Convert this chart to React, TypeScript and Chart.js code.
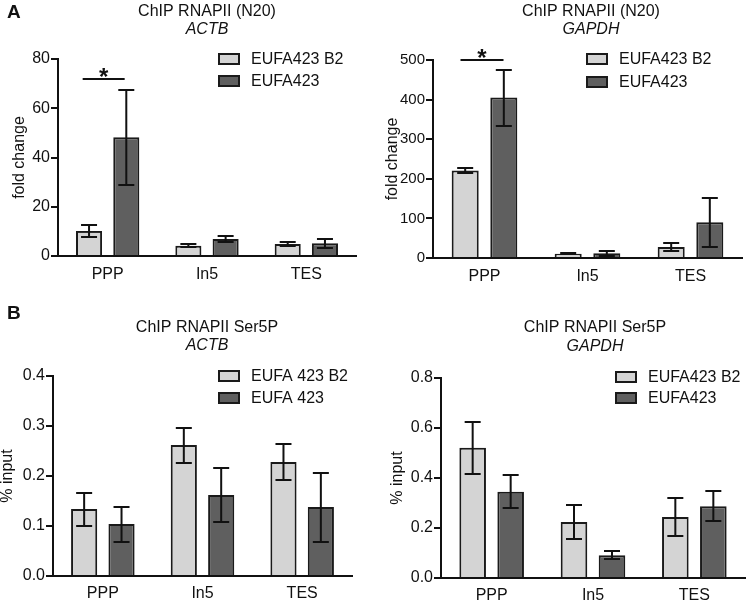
import React, { useEffect, useRef } from 'react';
import { Chart, registerables } from 'chart.js';

Chart.register(...registerables);

const FONT = '"Liberation Sans", Arial, Helvetica, sans-serif';

const categories = ['PPP', 'In5', 'TES'];

// Panel A (left): ChIP RNAPII (N20) – ACTB, fold change
const actbN20Labels = ['EUFA423 B2', 'EUFA423'];
const actbN20B2 = [10.2, 4.2, 4.9];
const actbN20B2Err = [2.5, 0.5, 0.9];
const actbN20Mut = [48.2, 6.9, 5.2];
const actbN20MutErr = [19.3, 1.1, 1.9];

// Panel A (right): ChIP RNAPII (N20) – GAPDH, fold change
const gapdhN20Labels = ['EUFA423 B2', 'EUFA423'];
const gapdhN20B2 = [221, 11, 27.5];
const gapdhN20B2Err = [7.5, 2, 10.5];
const gapdhN20Mut = [405, 12, 90];
const gapdhN20MutErr = [71, 6.5, 61];

// Panel B (left): ChIP RNAPII Ser5P – ACTB, % input
const actbSer5Labels = ['EUFA 423 B2', 'EUFA 423'];
const actbSer5B2 = [0.134, 0.262, 0.228];
const actbSer5B2Err = [0.033, 0.035, 0.036];
const actbSer5Mut = [0.104, 0.162, 0.138];
const actbSer5MutErr = [0.035, 0.054, 0.069];

// Panel B (right): ChIP RNAPII Ser5P – GAPDH, % input
const gapdhSer5Labels = ['EUFA423 B2', 'EUFA423'];
const gapdhSer5B2 = [0.521, 0.224, 0.244];
const gapdhSer5B2Err = [0.104, 0.067, 0.075];
const gapdhSer5Mut = [0.345, 0.091, 0.287];
const gapdhSer5MutErr = [0.066, 0.016, 0.06];

// y-axis ranges [min, max, step]
const actbN20Axis = [0, 80, 20];
const gapdhN20Axis = [0, 500, 100];
const actbSer5Axis = [0, 0.4, 0.1];
const gapdhSer5Axis = [0, 0.8, 0.2];

const LIGHT = '#d4d4d4';
const DARK = '#5f5f5f';
const EDGE = '#1a1a1a';

type Panel = {
  letter?: string;
  letterY?: number;
  title: string;
  gene: string;
  titleX: number;
  titleY: number;
  geneY: number;
  yTitle: string;
  yTitlePad: number;
  tickSize: number;
  xPad: number;
  decimals: number;
  axis: number[];
  labels: string[];
  b2: number[];
  b2Err: number[];
  mut: number[];
  mutErr: number[];
  legendX: number;
  legendY: number[];
  sig?: { cat: number; value: number; x0: number; x1: number };
  canvas: { left: number; top: number; w: number; h: number };
  area: { left: number; top: number; right: number; bottom: number };
};

const panels: Panel[] = [
  {
    letter: 'A', letterY: 13,
    title: 'ChIP RNAPII (N20)', gene: 'ACTB', titleX: 207, titleY: 12, geneY: 30,
    yTitle: 'fold change', yTitlePad: 12, tickSize: 16, xPad: 1, decimals: 0,
    axis: actbN20Axis, labels: actbN20Labels,
    b2: actbN20B2, b2Err: actbN20B2Err, mut: actbN20Mut, mutErr: actbN20MutErr,
    legendX: 218, legendY: [53, 75],
    sig: { cat: 0, value: 72, x0: -25, x1: 17 },
    canvas: { left: 0, top: 0, w: 373, h: 292 },
    area: { left: 58, top: 59, right: 356, bottom: 256 },
  },
  {
    title: 'ChIP RNAPII (N20)', gene: 'GAPDH', titleX: 218, titleY: 12, geneY: 30,
    yTitle: 'fold change', yTitlePad: 12, tickSize: 15, xPad: 1, decimals: 0,
    axis: gapdhN20Axis, labels: gapdhN20Labels,
    b2: gapdhN20B2, b2Err: gapdhN20B2Err, mut: gapdhN20Mut, mutErr: gapdhN20MutErr,
    legendX: 213, legendY: [53, 76],
    sig: { cat: 0, value: 500, x0: -24, x1: 19 },
    canvas: { left: 373, top: 0, w: 373, h: 292 },
    area: { left: 60, top: 60, right: 369, bottom: 258 },
  },
  {
    letter: 'B', letterY: 34,
    title: 'ChIP RNAPII Ser5P', gene: 'ACTB', titleX: 207, titleY: 48, geneY: 66,
    yTitle: '% input', yTitlePad: 0, tickSize: 16, xPad: 0, decimals: 1,
    axis: actbSer5Axis, labels: actbSer5Labels,
    b2: actbSer5B2, b2Err: actbSer5B2Err, mut: actbSer5Mut, mutErr: actbSer5MutErr,
    legendX: 218, legendY: [90, 112],
    canvas: { left: 0, top: 280, w: 373, h: 321 },
    area: { left: 53, top: 96, right: 352, bottom: 296 },
  },
  {
    title: 'ChIP RNAPII Ser5P', gene: 'GAPDH', titleX: 222, titleY: 48, geneY: 67,
    yTitle: '% input', yTitlePad: 17, tickSize: 16, xPad: 0, decimals: 1,
    axis: gapdhSer5Axis, labels: gapdhSer5Labels,
    b2: gapdhSer5B2, b2Err: gapdhSer5B2Err, mut: gapdhSer5Mut, mutErr: gapdhSer5MutErr,
    legendX: 242, legendY: [91, 112],
    canvas: { left: 373, top: 280, w: 373, h: 321 },
    area: { left: 68, top: 98, right: 372, bottom: 298 },
  },
];

function PanelChart({ p }: { p: Panel }) {
  const ref = useRef<HTMLCanvasElement | null>(null);

  useEffect(() => {
    const canvas = ref.current;
    if (!canvas) return;
    const errs = [p.b2Err, p.mutErr];

    const extras = {
      id: 'extras',
      afterDatasetsDraw(chart: any) {
        const ctx = chart.ctx;
        const y = chart.scales.y;
        ctx.save();
        ctx.strokeStyle = '#111';
        ctx.lineWidth = 2;
        chart.data.datasets.forEach((ds: any, di: number) => {
          const meta = chart.getDatasetMeta(di);
          meta.data.forEach((el: any, j: number) => {
            const v = ds.data[j];
            const e = errs[di][j];
            const x = el.x;
            const yt = Math.round(y.getPixelForValue(v + e));
            const yb = Math.round(y.getPixelForValue(Math.max(v - e, 0)));
            const cw = 8;
            ctx.beginPath();
            ctx.moveTo(x, yt);
            ctx.lineTo(x, yb);
            ctx.moveTo(x - cw, yt);
            ctx.lineTo(x + cw, yt);
            ctx.moveTo(x - cw, yb);
            ctx.lineTo(x + cw, yb);
            ctx.stroke();
          });
        });
        ctx.restore();
      },
      afterDraw(chart: any) {
        const ctx = chart.ctx;
        ctx.save();
        ctx.fillStyle = '#111';
        ctx.textBaseline = 'middle';
        if (p.letter) {
          ctx.font = `bold 19px ${FONT}`;
          ctx.textAlign = 'left';
          ctx.fillText(p.letter, 7, p.letterY);
        }
        ctx.textAlign = 'center';
        ctx.font = `16px ${FONT}`;
        ctx.fillText(p.title, p.titleX, p.titleY);
        ctx.font = `italic 16px ${FONT}`;
        ctx.fillText(p.gene, p.titleX, p.geneY);
        ctx.textAlign = 'left';
        ctx.font = `16px ${FONT}`;
        chart.data.datasets.forEach((ds: any, i: number) => {
          const by = p.legendY[i];
          ctx.fillStyle = ds.backgroundColor;
          ctx.fillRect(p.legendX, by, 22, 12);
          ctx.strokeStyle = EDGE;
          ctx.lineWidth = 2;
          ctx.strokeRect(p.legendX + 1, by + 1, 20, 10);
          ctx.fillStyle = '#111';
          ctx.fillText(ds.label, p.legendX + 33, by + 7);
        });
        if (p.sig) {
          const cx = chart.scales.x.getPixelForValue(p.sig.cat);
          const sy = Math.round(chart.scales.y.getPixelForValue(p.sig.value));
          ctx.strokeStyle = '#111';
          ctx.lineWidth = 2;
          ctx.beginPath();
          ctx.moveTo(cx + p.sig.x0, sy);
          ctx.lineTo(cx + p.sig.x1, sy);
          ctx.stroke();
          ctx.font = `bold 24px ${FONT}`;
          ctx.textAlign = 'center';
          ctx.textBaseline = 'alphabetic';
          ctx.fillText('*', cx + (p.sig.x0 + p.sig.x1) / 2, sy + 6);
        }
        ctx.restore();
      },
    };

    const chart = new Chart(canvas, {
      type: 'bar',
      data: {
        labels: categories,
        datasets: [
          {
            label: p.labels[0], data: p.b2, backgroundColor: LIGHT,
            borderColor: EDGE, borderWidth: 2,
            categoryPercentage: 0.75, barPercentage: 0.7,
          },
          {
            label: p.labels[1], data: p.mut, backgroundColor: DARK,
            borderColor: EDGE, borderWidth: 2,
            categoryPercentage: 0.75, barPercentage: 0.7,
          },
        ],
      },
      options: {
        responsive: false,
        animation: false,
        devicePixelRatio: 1,
        layout: {
          padding: {
            left: 0,
            top: p.area.top,
            right: p.canvas.w - p.area.right,
            bottom: 0,
          },
        },
        plugins: {
          legend: { display: false },
          title: { display: false },
          tooltip: { enabled: false },
        },
        scales: {
          x: {
            type: 'category',
            offset: true,
            grid: { display: false },
            border: { display: true, color: '#111', width: 2 },
            ticks: {
              color: '#111',
              padding: p.xPad,
              font: { family: FONT, size: 16 },
              maxRotation: 0,
            },
            afterFit: (s: any) => { s.height = p.canvas.h - p.area.bottom; },
          },
          y: {
            min: p.axis[0],
            max: p.axis[1],
            grid: {
              display: true,
              drawOnChartArea: false,
              drawTicks: true,
              tickLength: 7,
              color: '#111',
              lineWidth: 2,
            },
            border: { display: true, color: '#111', width: 2 },
            ticks: {
              stepSize: p.axis[2],
              color: '#111',
              padding: 1,
              font: { family: FONT, size: p.tickSize },
              callback: (v: any) => Number(v).toFixed(p.decimals),
            },
            title: {
              display: true,
              text: p.yTitle,
              color: '#111',
              font: { family: FONT, size: 16, lineHeight: 1 },
              padding: { top: p.yTitlePad, bottom: 0 },
            },
            afterFit: (s: any) => { s.width = p.area.left; },
          },
        },
      },
      plugins: [extras],
    } as any);

    return () => chart.destroy();
  }, [p]);

  return (
    <canvas
      ref={ref}
      width={p.canvas.w}
      height={p.canvas.h}
      style={{
        position: 'absolute',
        left: p.canvas.left,
        top: p.canvas.top,
        width: p.canvas.w,
        height: p.canvas.h,
      }}
    />
  );
}

export default function App() {
  return (
    <div
      style={{
        position: 'absolute',
        left: 0,
        top: 0,
        width: 746,
        height: 601,
        background: '#fff',
        overflow: 'hidden',
      }}
    >
      {panels.map((p, i) => (
        <PanelChart key={i} p={p} />
      ))}
    </div>
  );
}
